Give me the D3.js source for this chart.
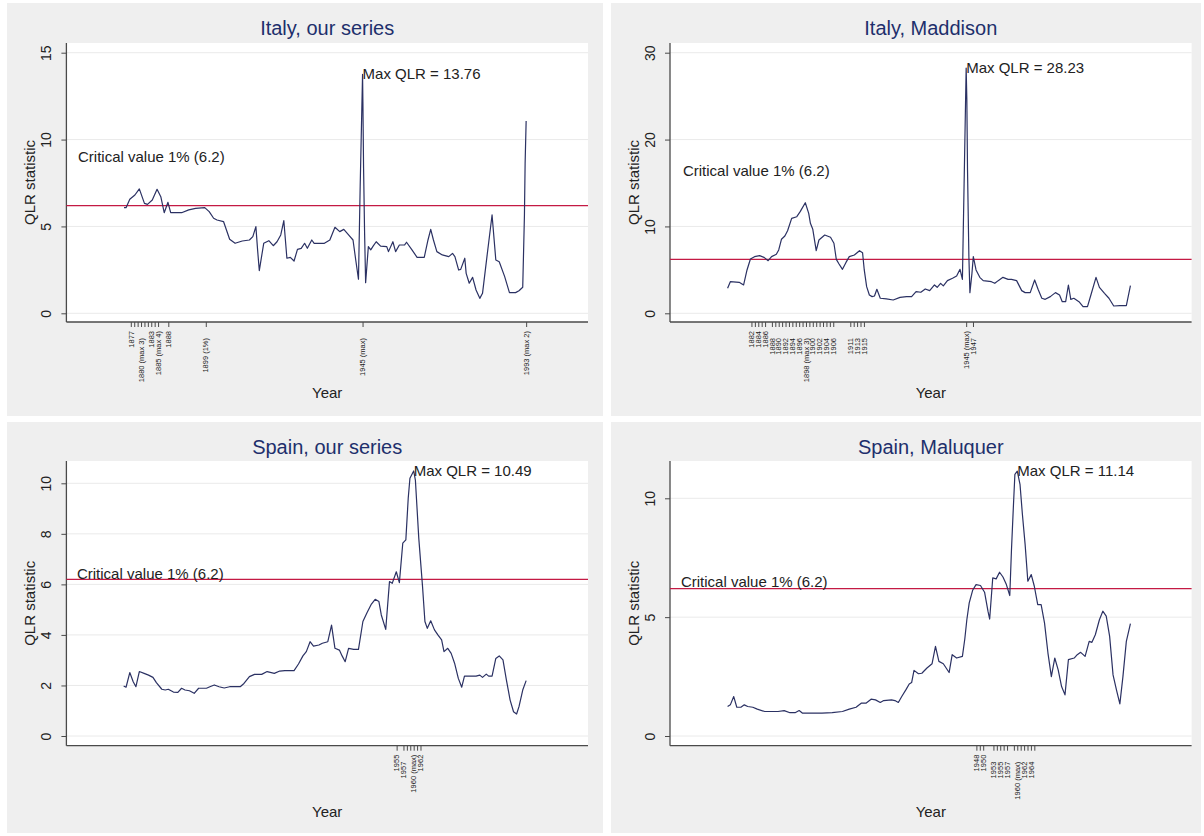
<!DOCTYPE html>
<html><head><meta charset="utf-8">
<script src="https://cdn.jsdelivr.net/npm/d3@7"></script>
<style>
body{margin:0;background:#fff;}
svg{display:block;font-family:"Liberation Sans",Arial,sans-serif;}
</style>
</head><body>
<svg id="c" width="1204" height="836"></svg>
<script>
// ---------------- DATA ----------------
const criticalValue = 6.2;

// [break year, QLR statistic]
const italyOurs = [[1875,6.08],[1875.6,6.08],[1876.7,6.56],[1878.2,6.81],[1879.5,7.16],[1881,6.33],[1881.9,6.27],[1883.3,6.52],[1884.7,7.14],[1885.8,6.71],[1886.8,5.79],[1887.9,6.39],[1888.7,5.79],[1891.9,5.79],[1894,5.95],[1896,6.04],[1898.7,6.08],[1900,5.85],[1901.3,5.47],[1902.3,5.37],[1904.2,5.28],[1906,4.26],[1907.6,4.03],[1909.7,4.16],[1911.8,4.22],[1912.8,4.41],[1913.7,4.99],[1914.2,3.65],[1914.7,2.46],[1916,4.03],[1917.5,4.18],[1918.8,3.89],[1919.9,4.12],[1921,4.51],[1921.9,5.33],[1922.8,3.17],[1923.8,3.22],[1924.9,3.01],[1925.9,3.68],[1927,3.74],[1928,4.03],[1928.8,3.74],[1930.1,4.22],[1930.8,4.03],[1933.8,4.03],[1935.4,4.22],[1936.9,4.95],[1938.3,4.70],[1939.5,4.83],[1940.9,4.51],[1942.2,4.22],[1943,3.07],[1943.8,1.96],[1944.3,7.29],[1945,13.76],[1945.1,12.18],[1945.3,8.34],[1945.6,4.60],[1945.9,1.76],[1946.7,3.84],[1947.4,3.65],[1948.1,3.87],[1949,4.12],[1950.3,3.87],[1952.1,3.84],[1952.6,3.55],[1953.9,4.12],[1954.7,3.55],[1955.8,3.93],[1957.3,3.93],[1957.9,4.09],[1959.5,3.65],[1961,3.22],[1963.1,3.22],[1964.2,4.22],[1965,4.83],[1965.8,4.22],[1966.8,3.55],[1968.4,3.36],[1970.3,3.26],[1971.4,3.45],[1972.1,3.26],[1973.2,2.49],[1973.8,2.53],[1975,3.17],[1975.4,2.30],[1976.3,1.73],[1977.3,2.07],[1978.3,1.34],[1979.4,0.86],[1980.2,1.15],[1981.5,3.26],[1983,5.66],[1984.1,3.07],[1985.1,2.97],[1986.7,2.11],[1988.1,1.19],[1989.9,1.19],[1990.9,1.30],[1992,1.50],[1992.5,5.66],[1992.7,8.63],[1993,11.07]];

const italyMaddison = [[1875,2.88],[1875.8,3.64],[1878.4,3.57],[1879.7,3.26],[1880.7,4.99],[1881.7,6.25],[1882.9,6.52],[1884.4,6.64],[1885.7,6.44],[1886.9,6.06],[1887.9,6.52],[1889.3,6.79],[1890,7.29],[1890.8,8.52],[1891.8,8.90],[1892.6,9.51],[1893.8,10.93],[1895.3,11.12],[1896.3,11.70],[1897.8,12.73],[1898.8,11.51],[1899.3,10.36],[1900,9.67],[1901,7.21],[1901.8,8.44],[1903.5,9.01],[1905.2,8.75],[1906.2,8.06],[1906.9,6.21],[1907.7,5.68],[1908.7,5.06],[1909.7,5.83],[1910.7,6.52],[1912.2,6.71],[1913.7,7.21],[1914.6,6.98],[1915.1,4.99],[1915.8,3.07],[1916.6,2.11],[1917.4,1.92],[1918.1,1.99],[1918.8,2.76],[1919.8,1.73],[1921.6,1.65],[1923.6,1.53],[1925.6,1.84],[1927.5,1.92],[1929,1.92],[1930.3,2.49],[1931.7,2.42],[1933,2.80],[1934.3,2.61],[1935.7,3.26],[1936.5,2.99],[1937.5,3.45],[1938.3,3.15],[1939.5,3.76],[1941,4.03],[1942.2,4.30],[1943.2,5.06],[1943.9,3.91],[1944.4,14.96],[1945,28.23],[1945.2,24.63],[1945.4,16.49],[1945.8,6.52],[1946.1,2.38],[1946.7,4.60],[1947.1,6.52],[1947.9,4.99],[1949,4.14],[1950,3.76],[1952.4,3.64],[1953.4,3.45],[1954.4,3.76],[1955.8,4.14],[1957.3,3.91],[1958.3,3.91],[1959.8,3.76],[1961.3,2.61],[1962.3,2.38],[1963.8,2.38],[1965.1,3.84],[1966.1,2.76],[1967.2,1.73],[1968.2,1.61],[1969.7,1.92],[1971.2,2.38],[1972.4,2.11],[1973.2,1.34],[1974.2,1.34],[1975,3.26],[1975.7,1.61],[1976.6,1.73],[1978.1,1.34],[1979.3,0.77],[1980.6,0.77],[1981.6,2.11],[1983.1,4.14],[1984.1,2.99],[1985.6,2.30],[1986.9,1.73],[1988.3,0.84],[1990.1,0.88],[1992,0.88],[1993.2,3.18]];

const spainOurs = [[1874.9,1.98],[1875.6,1.93],[1876.7,2.51],[1877.7,2.15],[1878.5,1.95],[1879.5,2.55],[1880.9,2.48],[1882.2,2.41],[1883.5,2.32],[1884.5,2.11],[1886.1,1.85],[1887.1,1.82],[1888,1.85],[1889.5,1.74],[1890.8,1.73],[1891.9,1.89],[1892.9,1.82],[1894.2,1.79],[1895.6,1.69],[1896.9,1.89],[1899.2,1.89],[1900.2,1.95],[1901.5,2.02],[1902.9,1.95],[1904.4,1.90],[1906,1.95],[1909.1,1.95],[1910.2,2.08],[1911.8,2.35],[1913.3,2.44],[1915.4,2.44],[1917,2.55],[1919.1,2.48],[1920.7,2.57],[1922.2,2.59],[1924.9,2.59],[1926.2,2.85],[1927.5,3.17],[1928.5,3.34],[1929.6,3.73],[1930.6,3.56],[1932.2,3.60],[1933.2,3.67],[1934.8,3.73],[1935.9,4.39],[1936.9,3.47],[1938.2,3.40],[1939,3.17],[1939.9,2.94],[1940.9,3.47],[1942.4,3.43],[1943.8,3.43],[1945.1,4.53],[1946.3,4.88],[1947.6,5.22],[1948.7,5.41],[1949.8,5.32],[1950.5,4.79],[1951.8,4.22],[1952.9,6.11],[1953.7,6.04],[1954.9,6.50],[1955.8,6.07],[1956.8,7.63],[1957.7,7.76],[1958.4,9.41],[1958.9,10.20],[1960,10.49],[1960.5,10.13],[1961.5,7.82],[1962.6,5.91],[1963.3,4.53],[1964,4.26],[1965,4.56],[1966.1,4.20],[1967.1,4.00],[1968.2,3.80],[1968.9,3.34],[1970,3.47],[1971,3.27],[1972,2.88],[1973.1,2.28],[1974.1,1.93],[1974.9,2.37],[1976.7,2.37],[1978.3,2.37],[1979.4,2.41],[1980.2,2.32],[1981.3,2.45],[1982,2.37],[1983,2.37],[1984.1,3.07],[1985.1,3.17],[1986.2,3.01],[1987.2,2.22],[1988.3,1.42],[1989.3,0.96],[1990.2,0.87],[1990.9,1.16],[1992,1.82],[1993,2.19]];

const spainMaluquer = [[1875,1.24],[1875.8,1.31],[1876.8,1.66],[1877.7,1.21],[1878.9,1.21],[1879.9,1.31],[1880.9,1.24],[1882.4,1.21],[1883.7,1.13],[1885.9,1.03],[1887.9,1.03],[1889.8,1.03],[1891.6,1.07],[1893.3,0.98],[1894.8,0.98],[1896,1.07],[1897,0.96],[1899.8,0.96],[1902.7,0.96],[1905.7,0.98],[1908.7,1.03],[1910.7,1.13],[1912.7,1.21],[1914.2,1.38],[1915.6,1.38],[1917.1,1.55],[1918.4,1.52],[1919.8,1.41],[1920.8,1.49],[1923.1,1.52],[1924.1,1.49],[1925.1,1.41],[1926.1,1.66],[1927.3,1.94],[1928.3,2.19],[1929,2.25],[1929.7,2.76],[1931,2.62],[1932,2.64],[1933.5,2.86],[1935,3.04],[1936,3.77],[1937,3.14],[1938.3,3.04],[1940,2.67],[1940.9,3.42],[1942.2,3.28],[1943.9,3.35],[1944.6,4.08],[1945.2,4.89],[1945.9,5.60],[1946.9,6.13],[1947.9,6.37],[1949.2,6.33],[1950.4,6.05],[1951.4,5.25],[1951.9,4.92],[1952.8,6.65],[1953.8,6.61],[1954.8,6.89],[1955.8,6.69],[1956.8,6.37],[1957.8,5.91],[1958.3,7.85],[1958.8,9.47],[1959.3,11.01],[1960,11.14],[1960.8,10.59],[1961.5,9.33],[1962.3,8.06],[1963.1,6.51],[1964.1,6.79],[1965,6.30],[1966,5.53],[1967,5.53],[1968,4.75],[1969,3.49],[1970,2.50],[1971,3.28],[1972,2.78],[1973,2.08],[1974,1.73],[1975,3.21],[1976.7,3.28],[1977.6,3.42],[1978.6,3.52],[1979.9,3.35],[1981.1,3.98],[1981.9,3.94],[1982.9,4.26],[1984.1,4.89],[1985.1,5.25],[1986.1,5.04],[1987.1,4.19],[1988.1,2.57],[1989.1,1.94],[1990.1,1.35],[1991,2.50],[1992,3.98],[1993.2,4.73]];

// y-axis ticks
const yTicksItalyOurs = [0,5,10,15];
const yTicksItalyMaddison = [0,10,20,30];
const yTicksSpainOurs = [0,2,4,6,8,10];
const yTicksSpainMaluquer = [0,5,10];

// x-axis ticks (years) and their labels ("" = unlabelled tick)
const xTicksItalyOurs = [1877,1878,1879,1880,1881,1882,1883,1884,1885,1888,1899,1945,1993];
const xLabelsItalyOurs = ["1877","","","1880 (max 3)","","","1883","","1885 (max 4)","1888","1899 (1%)","1945 (max)","1993 (max 2)"];

const xTicksItalyMaddison = [1882,1883,1884,1885,1886,1888,1889,1890,1891,1892,1893,1894,1895,1896,1897,1898,1899,1900,1901,1902,1903,1904,1905,1906,1911,1912,1913,1914,1915,1945,1947];
const xLabelsItalyMaddison = ["1882","","1884","","1886","1888","","1890","","1892","","1894","","1896","","1898 (max 3)","","1900","","1902","","1904","","1906","1911","","1913","","1915","1945 (max)","1947"];

const xTicksSpainOurs = [1955,1957,1958,1959,1960,1961,1962];
const xLabelsSpainOurs = ["1955","1957","","","1960 (max)","","1962"];

const xTicksSpainMaluquer = [1948,1949,1950,1953,1954,1955,1956,1957,1959,1960,1961,1962,1963,1964,1965];
const xLabelsSpainMaluquer = ["1948","","1950","1953","","1955","","1957","","1960 (max)","","1962","","1964",""];

const titles = ["Italy, our series","Italy, Maddison","Spain, our series","Spain, Maluquer"];

// ---------------- LAYOUT ----------------
const xDomain = [1858.1, 2011.15];
const panels = [
  {title:titles[0], data:italyOurs, yTicks:yTicksItalyOurs, xTicks:xTicksItalyOurs, xLabels:xLabelsItalyOurs,
   lowRow:[1880,1899,1945], crit:[1861.5,9.0],
   box:[7,3,596,413], plot:[66.4,588,43,322], yPix:[313.3,52.7], yearY:393, titleY:28},
  {title:titles[1], data:italyMaddison, yTicks:yTicksItalyMaddison, xTicks:xTicksItalyMaddison, xLabels:xLabelsItalyMaddison,
   lowRow:[1888,1890,1892,1894,1896,1898,1900,1902,1904,1906,1911,1913,1915,1947], crit:[1861.9,16.4],
   box:[611,3,590,413], plot:[670,1191.6,43,322], yPix:[313.3,52.7], yearY:393, titleY:28},
  {title:titles[2], data:spainOurs, yTicks:yTicksSpainOurs, xTicks:xTicksSpainOurs, xLabels:xLabelsSpainOurs,
   lowRow:[1957], crit:[1861.2,6.41],
   box:[7,422,596,411], plot:[66.4,588,461,745.7], yPix:[736,483.3], yearY:812, titleY:447},
  {title:titles[3], data:spainMaluquer, yTicks:yTicksSpainMaluquer, xTicks:xTicksSpainMaluquer, xLabels:xLabelsSpainMaluquer,
   lowRow:[1953,1955,1957,1960,1962,1964], crit:[1861.3,6.47],
   box:[611,422,590,411], plot:[670,1191.6,461,745.7], yPix:[736,498.3], yearY:812, titleY:447}
];

const svg = d3.select("#c");
svg.append("rect").attr("width",1204).attr("height",836).attr("fill","#ffffff");

const LINE_COL = "#2b3163", CRIT_COL = "#c41a44", TITLE_COL = "#1e2f6c", AXIS_COL = "#4a4a4a";

panels.forEach(p => {
  const g = svg.append("g");
  const [bx,by,bw,bh] = p.box;
  const [pl,pr,pt,pb] = p.plot;
  g.append("rect").attr("x",bx).attr("y",by).attr("width",bw).attr("height",bh).attr("fill","#efefef");
  g.append("rect").attr("x",pl).attr("y",pt).attr("width",pr-pl).attr("height",pb-pt).attr("fill","#ffffff");

  const x = d3.scaleLinear().domain(xDomain).range([pl,pr]);
  const y = d3.scaleLinear().domain([0, p.yTicks[p.yTicks.length-1]]).range(p.yPix);

  // gridlines
  g.selectAll(".grid").data(p.yTicks).join("line")
    .attr("x1",pl).attr("x2",pr).attr("y1",d=>y(d)).attr("y2",d=>y(d))
    .attr("stroke","#eaeaea").attr("stroke-width",1);

  // y axis
  const yAxis = d3.axisLeft(y).tickValues(p.yTicks).tickSize(5).tickFormat(d3.format("d"));
  const ya = g.append("g").attr("transform",`translate(${pl},0)`).call(yAxis);
  ya.select(".domain").remove();
  ya.selectAll(".tick line").attr("stroke",AXIS_COL);
  ya.selectAll(".tick text").attr("font-size",14).attr("fill","#222")
    .attr("text-anchor","middle").attr("x",0).attr("dy",0)
    .attr("transform","translate(-15,0) rotate(-90)");
  g.append("line").attr("x1",pl).attr("x2",pl).attr("y1",pt).attr("y2",pb).attr("stroke",AXIS_COL).attr("stroke-width",1.3);

  // x axis
  const xAxis = d3.axisBottom(x).tickValues(p.xTicks).tickSize(5).tickFormat("");
  const xa = g.append("g").attr("transform",`translate(0,${pb})`).call(xAxis);
  xa.select(".domain").remove();
  xa.selectAll(".tick line").attr("stroke",AXIS_COL);
  g.append("line").attr("x1",pl).attr("x2",pr).attr("y1",pb).attr("y2",pb).attr("stroke",AXIS_COL).attr("stroke-width",1.3);
  p.xTicks.forEach((t,i) => {
    const lab = p.xLabels[i];
    if (!lab) return;
    const off = p.lowRow.includes(t) ? 16 : 9;
    g.append("text").attr("font-size",7.5).attr("fill","#222").attr("text-anchor","end")
      .attr("transform",`translate(${x(t)+2.7},${pb+off}) rotate(-90)`).text(lab);
  });

  // critical line
  g.append("line").attr("x1",pl).attr("x2",pr).attr("y1",y(criticalValue)).attr("y2",y(criticalValue))
    .attr("stroke",CRIT_COL).attr("stroke-width",1.3);

  // series
  const line = d3.line().x(d=>x(d[0])).y(d=>y(d[1]));
  g.append("path").datum(p.data).attr("d",line).attr("fill","none")
    .attr("stroke",LINE_COL).attr("stroke-width",1.2).attr("stroke-linejoin","round");

  // annotations
  const maxPt = p.data.reduce((a,b)=> b[1]>a[1]?b:a);
  g.append("text").attr("x",x(maxPt[0])).attr("y",y(maxPt[1])).attr("dy","0.35em")
    .attr("font-size",15).attr("fill","#222").text("Max QLR = " + d3.format(".2f")(maxPt[1]));
  g.append("text").attr("x",x(p.crit[0])).attr("y",y(p.crit[1])).attr("dy","0.35em")
    .attr("font-size",15).attr("fill","#222").text("Critical value 1% (" + criticalValue + ")");

  // titles
  const cx = (pl+pr)/2;
  g.append("text").attr("x",cx).attr("y",p.titleY).attr("dy","0.35em").attr("text-anchor","middle")
    .attr("font-size",20).attr("fill",TITLE_COL).text(p.title);
  g.append("text").attr("x",cx).attr("y",p.yearY).attr("dy","0.35em").attr("text-anchor","middle")
    .attr("font-size",15).attr("fill","#222").text("Year");
  g.append("text").attr("transform",`translate(${pl-31},${(pt+pb)/2}) rotate(-90)`).attr("text-anchor","middle")
    .attr("font-size",15).attr("fill","#222").text("QLR statistic");
});
</script>
</body></html>
